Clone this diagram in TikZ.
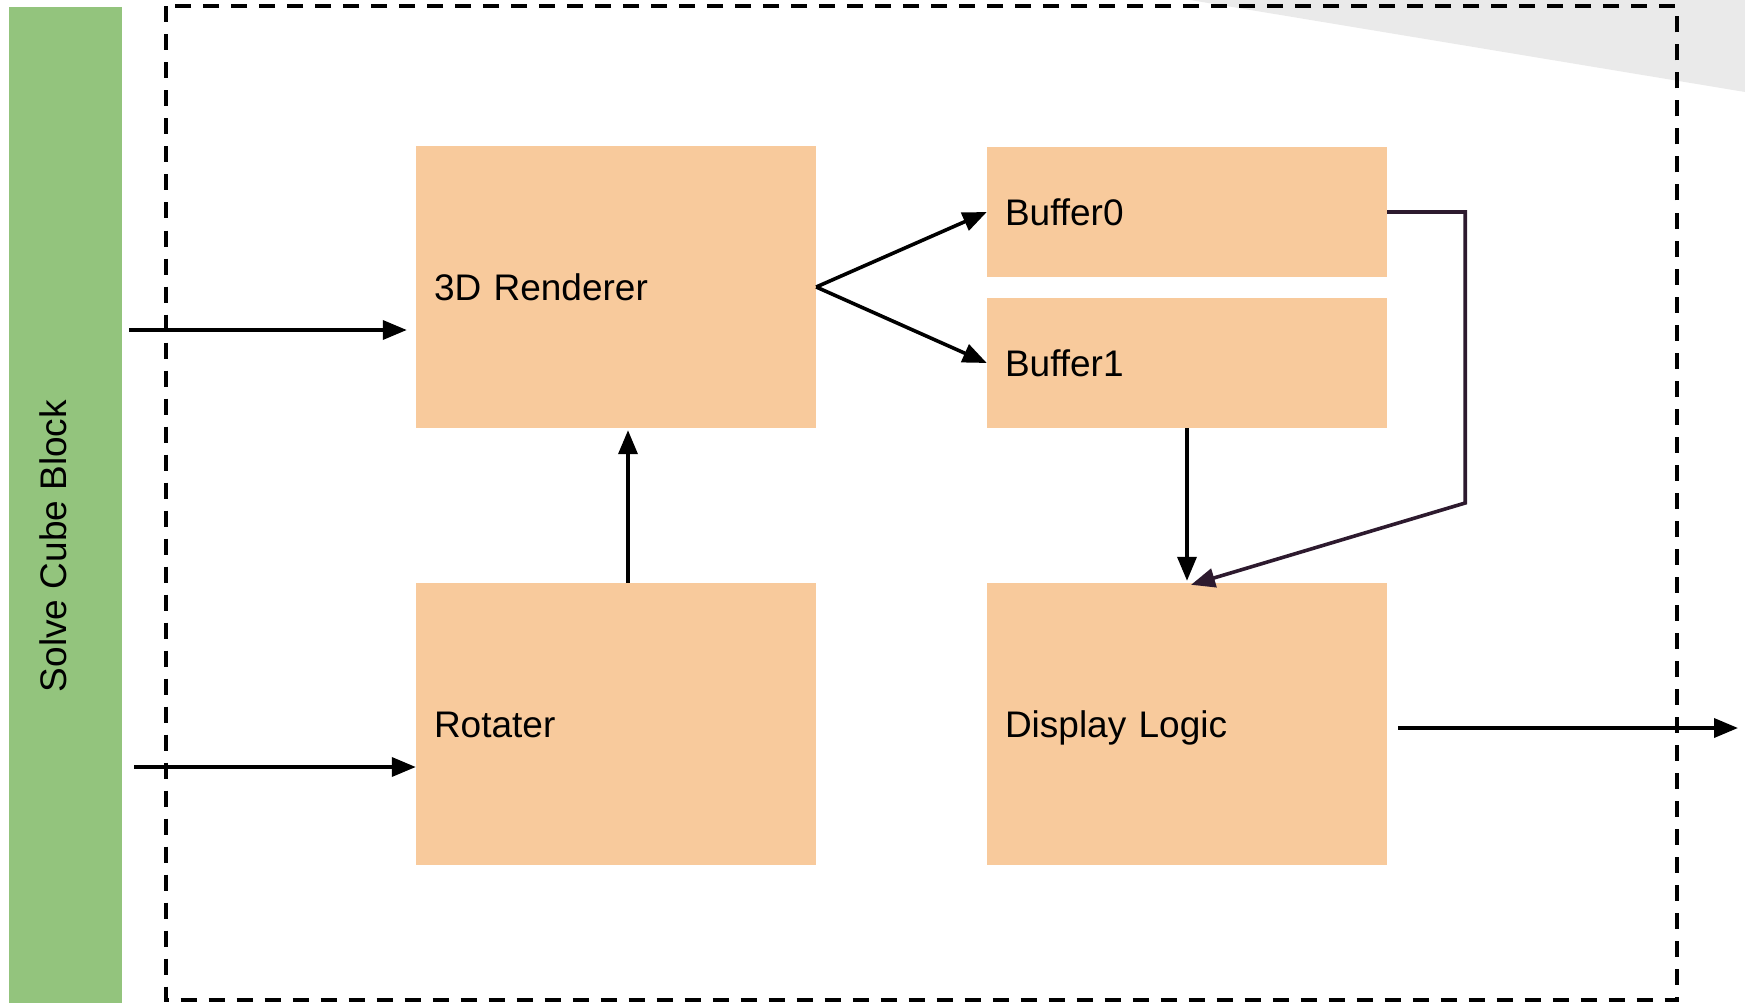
\documentclass[tikz,border=0pt]{standalone}
\usepackage{fontspec}
\setmainfont{Liberation Sans}
\usetikzlibrary{arrows.meta}
\definecolor{peach}{HTML}{F8CA9C}
\definecolor{leaf}{HTML}{93C47D}
\definecolor{greyfill}{HTML}{EAEAEA}
\definecolor{darkline}{HTML}{2D1A2E}
\tikzset{
  blk/.style={fill=peach, draw=none, text width=364pt, inner xsep=18pt, inner ysep=0pt, align=left, text height=26.5pt, text depth=0pt, font=\fontsize{37}{44}\selectfont},
  arr/.style={line width=3.6pt, -{Triangle[length=24pt,width=19pt]}},
  frame/.style={line width=4pt, dash pattern=on 16pt off 12pt},
}
\begin{document}
\begin{tikzpicture}[x=1pt,y=-1pt]
\useasboundingbox (0,0) rectangle (1745,1003);
\fill[greyfill] (1190,0) -- (1745,0) -- (1745,92) -- cycle;
\node[fill=leaf, draw=none, minimum width=113pt, minimum height=996pt, inner sep=0pt] (solve) at (65.5,505) {};
\node[rotate=90, font=\fontsize{37}{44}\selectfont, inner sep=0pt] (solvelbl) at (53,546) {Solve Cube Block};
\draw[frame] (166,6.5) rectangle (1677,1000);
\node[blk, minimum height=282pt] (rend) at (616,287) {3D Renderer};
\node[blk, minimum height=130pt] (buf0) at (1187,212) {Buffer0};
\node[blk, minimum height=130pt] (buf1) at (1187,363) {Buffer1};
\node[blk, minimum height=282pt] (rot) at (616,724) {Rotater};
\node[blk, minimum height=282pt] (disp) at (1187,724) {Display Logic};
\coordinate (in1) at (129,330);
\coordinate (in2) at (134,767);
\coordinate (outend) at (1738,728);
\draw[arr, shorten >=9pt] (in1) -- (in1 -| rend.west);
\draw[arr] (in2) -- (in2 -| rot.west);
\draw[arr, shorten >=2pt] ([xshift=12pt]rot.north) -- ([xshift=12pt]rend.south);
\draw[arr] (rend.east) -- (buf0.west);
\draw[arr] (rend.east) -- (buf1.west);
\draw[arr, shorten >=2pt] (buf1.south) -- (disp.north);
\draw[arr, draw=darkline, line join=miter] (buf0.east) -- ++(78,0) -- ++(0,291) -- ([xshift=4pt,yshift=-2pt]disp.north);
\draw[arr] ([shift={(11,4)}]disp.east) -- (outend);
\end{tikzpicture}
\end{document}
